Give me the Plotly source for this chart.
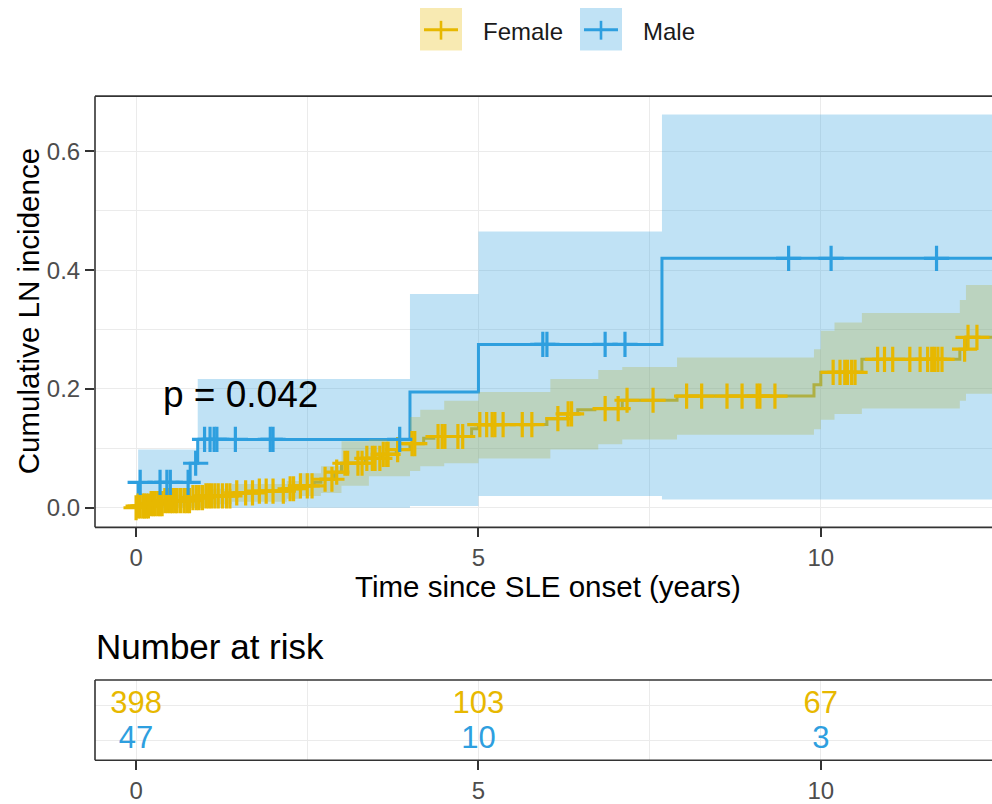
import numpy as np
import plotly.graph_objects as go

# ---------------- data ----------------
# Male cumulative incidence (step function)
male_event_times = [0.03, 0.79, 0.90, 4.0, 5.0, 7.68]
male_cuminc = [0.0426, 0.075, 0.115, 0.195, 0.275, 0.42]
# Male confidence band (change times, upper, lower)
male_ci_times = [0.03, 0.90, 4.0, 5.0, 7.68]
male_upper = [0.098, 0.217, 0.36, 0.465, 0.662]
male_lower = [0.0, 0.0, 0.003, 0.02, 0.014]
male_censor = [0.06, 0.35, 0.45, 0.5, 0.76, 0.87, 1.0, 1.08, 1.14, 1.18, 1.45, 1.96,
               2.0, 3.85, 5.94, 6.0, 6.85, 7.14, 9.53, 10.15, 11.69]

# Female cumulative incidence (step function)
female_event_times = [0.02, 0.2, 0.4, 0.8, 1.0, 1.4, 1.8, 2.2, 2.4, 2.6, 2.7, 2.9, 3.0,
                      3.35, 3.6, 3.8, 4.0, 4.2, 4.35, 4.9, 5.0, 6.0, 6.3, 6.45, 6.7,
                      7.1, 7.9, 9.9, 10.0, 10.6, 12.03, 12.12]
female_cuminc = [0.003, 0.007, 0.012, 0.017, 0.02, 0.025, 0.028, 0.032, 0.037, 0.043,
                 0.048, 0.06, 0.075, 0.083, 0.09, 0.098, 0.108, 0.117, 0.12, 0.133,
                 0.14, 0.15, 0.158, 0.165, 0.167, 0.181, 0.188, 0.207, 0.228, 0.25,
                 0.267, 0.287]
female_ci_times = [0.0, 0.4, 1.0, 1.4, 2.2, 2.4, 2.7, 3.0, 3.4, 4.0, 4.15, 4.5, 5.0,
                   6.05, 6.75, 7.1, 7.9, 9.9, 10.0, 10.2, 10.6, 12.03, 12.12]
female_upper = [0.01, 0.022, 0.032, 0.04, 0.045, 0.058, 0.07, 0.112, 0.115, 0.153,
                0.165, 0.18, 0.195, 0.217, 0.232, 0.237, 0.253, 0.267, 0.298, 0.312,
                0.328, 0.35, 0.375]
female_lower = [0.0, 0.002, 0.006, 0.01, 0.015, 0.02, 0.025, 0.037, 0.053, 0.062,
                0.07, 0.075, 0.083, 0.098, 0.107, 0.115, 0.123, 0.132, 0.148, 0.158,
                0.167, 0.18, 0.192]
female_censor = [0.0, 0.03, 0.06, 0.1, 0.12, 0.15, 0.18, 0.22, 0.25, 0.28, 0.32, 0.35,
                 0.38, 0.42, 0.46, 0.5, 0.53, 0.57, 0.6, 0.65, 0.7, 0.74, 0.78, 0.83,
                 0.88, 0.92, 0.97, 1.02, 1.06, 1.1, 1.15, 1.2, 1.26, 1.32, 1.37, 1.47,
                 1.6, 1.7, 1.8, 1.9, 2.0, 2.15, 2.25, 2.3, 2.4, 2.5, 2.57, 2.76, 2.86,
                 2.93, 3.05, 3.09, 3.24, 3.30, 3.37, 3.45, 3.49, 3.56, 3.61, 3.66, 3.68,
                 3.82, 4.03, 4.07, 4.41, 4.47, 4.51, 4.70, 4.77, 5.02, 5.12, 5.2, 5.24,
                 5.36, 5.64, 5.78, 6.16, 6.31, 6.36, 6.85, 7.04, 7.17, 7.55, 8.04, 8.26,
                 8.63, 8.85, 9.07, 9.11, 9.33, 10.18, 10.28, 10.35, 10.39, 10.45, 10.50,
                 10.83, 10.93, 11.05, 11.30, 11.45, 11.56, 11.62, 11.66, 11.71, 11.77,
                 12.10, 12.15, 12.28]

risk_times = [0, 5, 10]
risk_female = [398, 103, 67]
risk_male = [47, 10, 3]

groups = ["Female", "Male"]
pval_text = "p = 0.042"
t_max = 12.7

# ---------------- style ----------------
C_F = "#E7B800"
C_M = "#2E9FDF"
FILL_F = "rgba(231,184,0,0.3)"
FILL_M = "rgba(46,159,223,0.3)"
FONT = "Liberation Sans, Arial, sans-serif"
GRID = "#EBEBEB"
FRAME = "#333333"
TICKC = "#4D4D4D"
W, H = 992, 804


def fx(p):
    return p / W


def fy(p):
    return 1 - p / H


def step_line(times, vals, tmax):
    x = [0.0] + list(times) + [tmax]
    y = [0.0] + list(vals) + [vals[-1]]
    return x, y


def band_poly(times, up, lo, tmax):
    ends = list(times[1:]) + [tmax]
    xu, yu, xl, yl = [], [], [], []
    for t0, t1, u, l in zip(times, ends, up, lo):
        xu += [t0, t1]
        yu += [u, u]
        xl += [t0, t1]
        yl += [l, l]
    return xu + xl[::-1], yu + yl[::-1]


def step_at(times, vals, t):
    idx = np.searchsorted(np.array(times), np.array(t), side="right") - 1
    v = np.where(idx >= 0, np.array(vals)[np.clip(idx, 0, None)], 0.0)
    return v


fig = go.Figure()

# lines first (ribbons are drawn over them, as in the original)
mx, my = step_line(male_event_times, male_cuminc, t_max)
fx_, fy_ = step_line(female_event_times, female_cuminc, t_max)
fig.add_trace(go.Scatter(x=fx_, y=fy_, mode="lines", line=dict(color=C_F, width=3, shape="hv"),
                         showlegend=False, hoverinfo="skip"))
fig.add_trace(go.Scatter(x=mx, y=my, mode="lines", line=dict(color=C_M, width=3, shape="hv"),
                         showlegend=False, hoverinfo="skip"))

# ribbons: female first, male on top
bx, by = band_poly(female_ci_times, female_upper, female_lower, t_max)
fig.add_trace(go.Scatter(x=bx, y=by, mode="lines", fill="toself", fillcolor=FILL_F,
                         line=dict(width=0), showlegend=False, hoverinfo="skip"))
bx, by = band_poly(male_ci_times, male_upper, male_lower, t_max)
fig.add_trace(go.Scatter(x=bx, y=by, mode="lines", fill="toself", fillcolor=FILL_M,
                         line=dict(width=0), showlegend=False, hoverinfo="skip"))

# censor marks
fig.add_trace(go.Scatter(x=female_censor, y=step_at(female_event_times, female_cuminc, female_censor),
                         mode="markers",
                         marker=dict(symbol="cross-thin", size=18, line=dict(width=3.2, color=C_F)),
                         showlegend=False, hoverinfo="skip"))
fig.add_trace(go.Scatter(x=male_censor, y=step_at(male_event_times, male_cuminc, male_censor),
                         mode="markers",
                         marker=dict(symbol="cross-thin", size=18, line=dict(width=3.2, color=C_M)),
                         showlegend=False, hoverinfo="skip"))

# risk table
fig.add_trace(go.Scatter(x=risk_times, y=[2] * len(risk_times), text=[str(v) for v in risk_female],
                         mode="text", textfont=dict(size=31, color=C_F, family=FONT),
                         xaxis="x2", yaxis="y2", showlegend=False, hoverinfo="skip"))
fig.add_trace(go.Scatter(x=risk_times, y=[1] * len(risk_times), text=[str(v) for v in risk_male],
                         mode="text", textfont=dict(size=31, color=C_M, family=FONT),
                         xaxis="x2", yaxis="y2", showlegend=False, hoverinfo="skip"))

xdom = [fx(95), 1.0]
xr = [-0.6, 12.5]
common_x = dict(range=xr, domain=xdom, tickvals=[0, 5, 10], ticks="outside", ticklen=9,
                tickwidth=1.5, tickcolor=FRAME, tickfont=dict(size=24, color=TICKC, family=FONT),
                showgrid=True, gridcolor=GRID, gridwidth=1.4, zeroline=False, showline=False,
                minor=dict(tickvals=[2.5, 7.5], showgrid=True, gridcolor=GRID, gridwidth=0.7,
                           ticks=""))

fig.update_layout(
    width=W, height=H, margin=dict(l=0, r=0, t=0, b=0),
    paper_bgcolor="white", plot_bgcolor="white",
    font=dict(family=FONT),
    xaxis=dict(anchor="y", **common_x),
    yaxis=dict(domain=[fy(532), fy(97)], range=[-0.033, 0.693], tickvals=[0, 0.2, 0.4, 0.6],
               ticktext=["0.0", "0.2", "0.4", "0.6"], ticks="outside", ticklen=9, tickwidth=1.5,
               tickcolor=FRAME, tickfont=dict(size=24, color=TICKC, family=FONT),
               showgrid=True, gridcolor=GRID, gridwidth=1.4, zeroline=False, showline=False,
               minor=dict(tickvals=[0.1, 0.3, 0.5], showgrid=True, gridcolor=GRID,
                          gridwidth=0.7, ticks="")),
    xaxis2=dict(anchor="y2", **common_x),
    yaxis2=dict(domain=[fy(767), fy(686)], range=[0.42, 2.73], tickvals=[1, 2],
                showticklabels=False, ticks="", showgrid=True, gridcolor=GRID, gridwidth=1.4,
                zeroline=False, showline=False),
)

shapes = []
# panel frames (right side runs off the image)
for top, bot in [(97, 532), (686, 767)]:
    for (x0, y0, x1, y1) in [(95, top, 992, top), (95, bot, 992, bot), (95, top, 95, bot)]:
        shapes.append(dict(type="line", xref="paper", yref="paper", x0=fx(x0), y0=fy(y0),
                           x1=fx(x1), y1=fy(y1), line=dict(color=FRAME, width=1.6)))

# legend keys
annotations = []
for (left, name, col, fill) in [(420, groups[0], C_F, FILL_F), (580, groups[1], C_M, FILL_M)]:
    shapes.append(dict(type="rect", xref="paper", yref="paper", x0=fx(left), x1=fx(left + 42),
                       y0=fy(51), y1=fy(8), fillcolor=fill, line=dict(width=0)))
    shapes.append(dict(type="line", xref="paper", yref="paper", x0=fx(left + 4), x1=fx(left + 38),
                       y0=fy(30), y1=fy(30), line=dict(color=col, width=3.2)))
    shapes.append(dict(type="line", xref="paper", yref="paper", x0=fx(left + 21), x1=fx(left + 21),
                       y0=fy(21), y1=fy(40), line=dict(color=col, width=2.6)))
    annotations.append(dict(text=name, xref="paper", yref="paper", x=fx(left + 61), y=fy(32),
                            xanchor="left", yanchor="middle", showarrow=False,
                            font=dict(size=24, color="#1A1A1A", family=FONT)))

annotations += [
    dict(text="Cumulative LN incidence", xref="paper", yref="paper", x=fx(28), y=fy(314),
         textangle=-90, showarrow=False, xanchor="center", yanchor="middle",
         font=dict(size=29.5, color="black", family=FONT)),
    dict(text="Time since SLE onset (years)", xref="paper", yref="paper", x=fx(548), y=fy(592),
         showarrow=False, xanchor="center", yanchor="middle",
         font=dict(size=29.5, color="black", family=FONT)),
    dict(text="Number at risk", xref="paper", yref="paper", x=fx(94), y=fy(652),
         showarrow=False, xanchor="left", yanchor="middle",
         font=dict(size=35, color="black", family=FONT)),
    dict(text=pval_text, xref="x", yref="y", x=0.36, y=0.19, showarrow=False,
         xanchor="left", yanchor="middle", font=dict(size=37, color="black", family=FONT)),
]

fig.update_layout(shapes=shapes, annotations=annotations)
fig.write_html("out.html")
